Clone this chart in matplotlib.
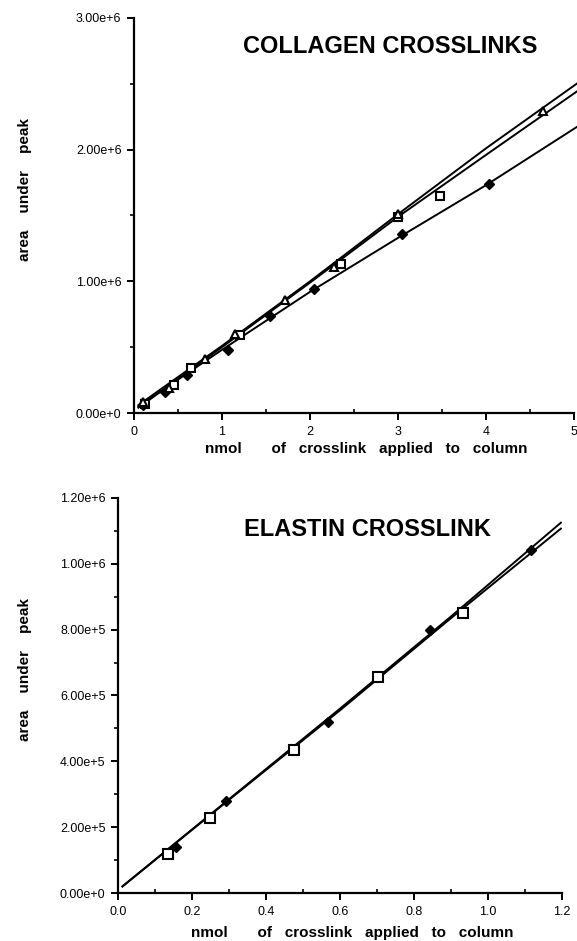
import matplotlib
matplotlib.use("Agg")
import matplotlib.pyplot as plt
from matplotlib.ticker import MultipleLocator, FuncFormatter

plt.rcParams['font.family'] = ['Liberation Sans', 'DejaVu Sans']

# collagen crosslinks (top panel), area in units of 1e6
col_diam_x = [0.10, 0.35, 0.60, 1.07, 1.55, 2.04, 3.05, 4.03]
col_diam_y = [0.06, 0.16, 0.29, 0.48, 0.74, 0.94, 1.36, 1.74]
col_sq_x = [0.12, 0.45, 0.65, 1.20, 2.35, 3.00, 3.48]
col_sq_y = [0.07, 0.21, 0.34, 0.59, 1.13, 1.49, 1.65]
col_tri_x = [0.10, 0.40, 0.81, 1.15, 1.72, 2.27, 3.00, 4.65]
col_tri_y = [0.08, 0.19, 0.41, 0.60, 0.86, 1.11, 1.51, 2.29]

# fitted curves
col_fit_x = [0.05, 1.0, 2.0, 3.0, 4.0, 5.05]
col_fit1_y = [0.06, 0.51, 1.00, 1.51, 2.01, 2.51]
col_fit2_y = [0.04, 0.50, 0.99, 1.49, 1.96, 2.45]
col_fit3_y = [0.05, 0.48, 0.92, 1.33, 1.73, 2.18]

# elastin crosslink (bottom panel), area in units of 1e6
ela_diam_x = [0.158, 0.292, 0.567, 0.844, 1.116]
ela_diam_y = [0.139, 0.280, 0.520, 0.800, 1.043]
ela_sq_x = [0.135, 0.249, 0.476, 0.703, 0.932]
ela_sq_y = [0.119, 0.227, 0.434, 0.656, 0.851]

ela_fit_x = [0.012, 0.3, 0.6, 0.9, 1.197]
ela_fit1_y = [0.020, 0.285, 0.560, 0.840, 1.125]
ela_fit2_y = [0.020, 0.283, 0.555, 0.835, 1.107]


def sci(v, pos):
    if v == 0:
        return "0.00e+0"
    s = "%.2e" % v
    m, e = s.split("e")
    return "%se+%d" % (m, int(e))


def style(ax):
    for s in ["top", "right"]:
        ax.spines[s].set_visible(False)
    for s in ["left", "bottom"]:
        ax.spines[s].set_linewidth(1.6)
    ax.tick_params(which="major", direction="out", length=5, width=1.4,
                   labelsize=9, pad=4)
    ax.tick_params(axis="x", which="minor", direction="in", length=3, width=1.2)
    ax.tick_params(axis="y", which="minor", direction="out", length=3, width=1.2)
    ax.yaxis.set_major_formatter(FuncFormatter(sci))


def scaled(vals):
    return [v * 1e6 for v in vals]


lab = dict(fontsize=11, fontweight="bold")
xlab = "nmol       of   crosslink   applied   to   column"
ylab = "area    under    peak"

fig = plt.figure(figsize=(5.77, 9.41), dpi=100)

ax1 = fig.add_axes([0.2322, 0.5611, 0.7626, 0.4198])
for fy in [col_fit1_y, col_fit2_y, col_fit3_y]:
    ax1.plot(col_fit_x, scaled(fy), color="black", lw=1.4, clip_on=False)
ax1.plot(col_diam_x, scaled(col_diam_y), "D", color="black", ms=5.5, ls="none")
ax1.plot(col_sq_x, scaled(col_sq_y), "s", mfc="white", mec="black", mew=1.5, ms=6, ls="none")
ax1.plot(col_tri_x, scaled(col_tri_y), "^", mfc="white", mec="black", mew=1.5, ms=6, ls="none")
ax1.set_xlim(0, 5)
ax1.set_ylim(0, 3e6)
ax1.xaxis.set_major_locator(MultipleLocator(1))
ax1.xaxis.set_minor_locator(MultipleLocator(0.5))
ax1.yaxis.set_major_locator(MultipleLocator(1e6))
ax1.yaxis.set_minor_locator(MultipleLocator(5e5))
style(ax1)
ax1.text(0.247, 0.928, "COLLAGEN CROSSLINKS", transform=ax1.transAxes,
         fontsize=17, fontweight="bold", va="center", ha="left")
ax1.set_xlabel(xlab, **lab)
ax1.set_ylabel(ylab, **lab)
ax1.xaxis.set_label_coords(0.528, -0.074)
ax1.yaxis.set_label_coords(-0.232, 0.565)

ax2 = fig.add_axes([0.2045, 0.0510, 0.7695, 0.4198])
for fy in [ela_fit1_y, ela_fit2_y]:
    ax2.plot(ela_fit_x, scaled(fy), color="black", lw=1.4)
ax2.plot(ela_diam_x, scaled(ela_diam_y), "D", color="black", ms=5.5, ls="none")
ax2.plot(ela_sq_x, scaled(ela_sq_y), "s", mfc="white", mec="black", mew=1.5, ms=6.5, ls="none")
ax2.set_xlim(0, 1.2)
ax2.set_ylim(0, 1.2e6)
ax2.xaxis.set_major_locator(MultipleLocator(0.2))
ax2.xaxis.set_minor_locator(MultipleLocator(0.1))
ax2.yaxis.set_major_locator(MultipleLocator(2e5))
ax2.yaxis.set_minor_locator(MultipleLocator(1e5))
ax2.xaxis.set_major_formatter(FuncFormatter(lambda v, p: "%.1f" % v))
style(ax2)
ax2.text(0.283, 0.92, "ELASTIN CROSSLINK", transform=ax2.transAxes,
         fontsize=17, fontweight="bold", va="center", ha="left")
ax2.set_xlabel(xlab, **lab)
ax2.set_ylabel(ylab, **lab)
ax2.xaxis.set_label_coords(0.527, -0.084)
ax2.yaxis.set_label_coords(-0.194, 0.565)

fig.savefig("out.png", dpi=100)
